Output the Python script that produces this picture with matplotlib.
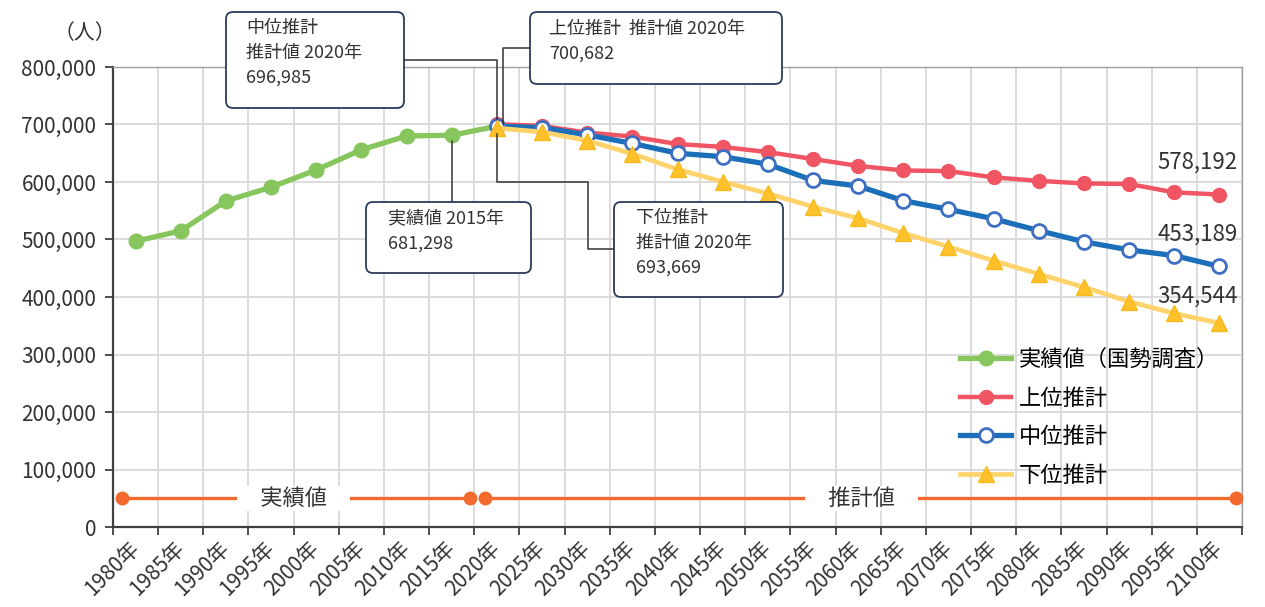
import numpy as np
import matplotlib.pyplot as plt
from matplotlib.patches import FancyBboxPatch
from matplotlib.lines import Line2D
from matplotlib.transforms import IdentityTransform

plt.rcParams['font.family'] = ['Noto Sans CJK JP', 'DejaVu Sans']

# data
years = list(range(1980, 2101, 5))
year_labels = [f'{y}年' for y in years]
actual = [497000, 515000, 567000, 591000, 621000, 656000, 680000, 681298, 697000]
high = [700682, 697500, 686000, 679000, 666000, 661000, 652000, 640000, 628000,
        620000, 619000, 608000, 602000, 597500, 596500, 582000, 578192]
mid = [696985, 694500, 682000, 667000, 650000, 644000, 631000, 602800, 593000,
       567500, 552500, 536000, 515500, 496000, 482000, 472000, 453189]
low = [693669, 687000, 672000, 649000, 622000, 600500, 580000, 557000, 537000,
       511000, 487500, 463000, 440000, 417000, 392000, 371500, 354544]
series_names = ['実績値（国勢調査）', '上位推計', '中位推計', '下位推計']
period_names = ['実績値', '推計値']
period_actual = [-0.3, 7.4]     # category units
period_proj = [7.73, 24.37]
period_label_x = [3.5, 16.07]
period_level = 50000

W, H = 1265, 607
fig = plt.figure(figsize=(W / 100, H / 100), dpi=100)
ax = fig.add_axes([113 / W, 1 - 527 / H, (1242 - 113) / W, (527 - 67) / H])

x_act = np.arange(len(actual))
x_proj = np.arange(len(actual) - 1, len(actual) - 1 + len(high))

ax.plot(x_act, actual, color='#86c65c', lw=3.8, marker='o', ms=10.5,
        mec='#86c65c', mfc='#86c65c', label=series_names[0], zorder=4)
ax.plot(x_proj, high, color='#ef5562', lw=3.2, marker='o', ms=10,
        mec='#ef5562', mfc='#ef5562', label=series_names[1], zorder=5)
ax.plot(x_proj, mid, color='#1a6fb8', lw=3.8, marker='o', ms=10,
        mec='#3f6fc2', mfc='white', mew=2, label=series_names[2], zorder=6)
ax.plot(x_proj, low, color='#ffd36b', lw=3.4, marker='^', ms=11,
        mec='#f7bb22', mfc='#ffc12a', label=series_names[3], zorder=7)

# period bar at the bottom
for xs, lx, name in zip([period_actual, period_proj], period_label_x, period_names):
    ax.plot(xs, [period_level] * 2, color='#f26a2d', lw=2.4, marker='o', ms=9,
            zorder=4)
    ax.text(lx, period_level, '\u3000' + name + '\u3000',
            ha='center', va='center', fontsize=16, color='#333333', zorder=5,
            bbox=dict(boxstyle='square,pad=0.05', fc='white', ec='none'))

ax.set_xlim(-0.5, len(years) - 0.5)
ax.set_ylim(0, 800000)
ax.set_xticks(np.arange(-0.5, len(years), 1))
ax.set_xticklabels([])
ax.set_xticks(np.arange(len(years)), minor=True)
ax.set_xticklabels(year_labels, minor=True, rotation=45, ha='right',
                   va='center', rotation_mode='anchor', fontsize=15, color='#333333')
ax.tick_params(axis='x', which='minor', length=0, pad=13)
ax.tick_params(axis='x', which='major', length=6, width=1.3, color='#404040')
yt = np.arange(0, 800001, 100000)
ax.set_yticks(yt)
ax.set_yticklabels([f'{v:,}' for v in yt], fontsize=15, color='#333333')
ax.tick_params(axis='y', length=6, width=1.3, color='#404040', pad=6)
ax.grid(True, which='major', color='#d9d9d9', lw=1.3)
ax.set_axisbelow(True)
for s in ['left', 'bottom']:
    ax.spines[s].set_color('#404040')
    ax.spines[s].set_linewidth(1.6)
for s in ['top', 'right']:
    ax.spines[s].set_color('#a0a0a0')
    ax.spines[s].set_linewidth(1.0)

fig.text(85 / W, 1 - 33 / H, '（人）', ha='center', va='center', fontsize=15,
         color='#333333')

# end labels
for vals, dy in [(high, 32), (mid, 32), (low, 27)]:
    ax.annotate(f'{vals[-1]:,}', (x_proj[-1], vals[-1]), xytext=(-22, dy),
                textcoords='offset pixels', ha='center', va='center',
                fontsize=16, color='#333333')

ax.legend(loc='upper left', bbox_to_anchor=(960 / W, 1 - 348 / H),
          bbox_transform=fig.transFigure, frameon=False, fontsize=16,
          handlelength=2.3, handletextpad=0.35, labelspacing=0.7,
          borderaxespad=0, borderpad=0)

# callout boxes (pixel layout, measured from top)
ident = IdentityTransform()


def px(x, y):
    return x, H - y


def data_px(x, y):
    dx, dy = ax.transData.transform((x, y))
    return dx, H - dy


def box(x0, y0, x1, y1, text, tx, ty):
    fig.add_artist(FancyBboxPatch(px(x0, y1), x1 - x0, y1 - y0,
                                  boxstyle='round,pad=0,rounding_size=7',
                                  fc='white', ec='#2e3a5c', lw=1.3,
                                  transform=ident, zorder=3))
    fig.text(*px(tx, ty), text, transform=ident, ha='left', va='top',
             fontsize=13, color='#333333', linespacing=1.5, zorder=4)


def connector(points):
    xs = [p[0] for p in points]
    ys = [H - p[1] for p in points]
    fig.add_artist(Line2D(xs, ys, color='#333333', lw=1.1, transform=ident,
                          zorder=2))


p_mid = data_px(x_proj[0], mid[0])
p_high = data_px(x_proj[0], high[0])
p_low = data_px(x_proj[0], low[0])
p_act = data_px(7, actual[7])

connector([(404, 60), (p_mid[0], 60), (p_mid[0], p_mid[1] - 7)])
connector([(530, 48), (p_high[0] + 6, 48), (p_high[0] + 6, p_high[1])])
connector([(p_act[0], 202), (p_act[0], p_act[1] + 6)])
connector([(p_low[0], p_low[1] + 6), (p_low[0], 182), (588, 182), (588, 249),
           (614, 249)])

box(226, 12, 404, 108, f'中位推計\n推計値 2020年\n{mid[0]:,}', 246, 19)
box(530, 12, 782, 84, f'上位推計  推計値 2020年\n{high[0]:,}', 549, 20)
box(366, 202, 531, 273, f'実績値 2015年\n{actual[7]:,}', 388, 210)
box(614, 202, 783, 297, f'下位推計\n推計値 2020年\n{low[0]:,}', 636, 209)

fig.savefig('out.png', dpi=100)
